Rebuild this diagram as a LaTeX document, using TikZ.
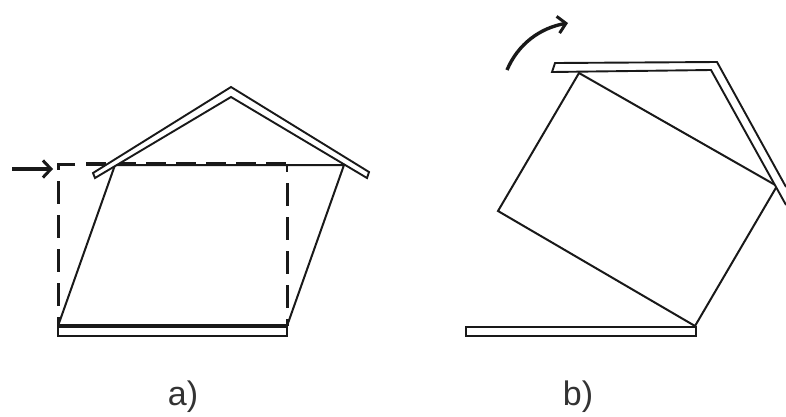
\documentclass[tikz,border=0pt]{standalone}
\usepackage{fontspec}
\setmainfont{Liberation Sans}
\usetikzlibrary{arrows.meta,calc,positioning}
\definecolor{darkline}{gray}{0.1}
\tikzset{
  wall/.style={line width=2pt,darkline},
  plate/.style={line width=1.9pt,darkline,line join=miter,fill=white},
  shifted/.style={draw=darkline,line width=3pt,dash pattern=on 23pt off 11pt},
  shiftedtop/.style={draw=darkline,line width=3.4pt,dash pattern=on 20pt off 10pt},
  push/.style={line width=3.4pt,darkline,-{Straight Barb[length=8pt,width=17pt,line width=3pt]}},
  caption/.style={font=\fontsize{34}{34}\selectfont,text=black!80,inner sep=0pt}
}
\begin{document}
\begin{tikzpicture}[x=1pt,y=-1pt]
        \useasboundingbox (0,0) rectangle (786,416);
        %Frame a)
        \coordinate (a1) at (58,326);
        \coordinate (a2) at (287,326);
        \coordinate (a3) at (344,165);
        \coordinate (a4) at (115,165);
        \coordinate (a5) at (58,164);
        \coordinate (a6) at (287,164);
        %Frame b)
        \coordinate (b1) at (695,326);
        \coordinate (b2) at (777,186);
        \coordinate (b3) at (579,73);
        \coordinate (b4) at (498,211);
        %Draw lines
        \path[shifted] (75,164) -- (a5) -- (a1);
        \path[shiftedtop] (86,164) -- (a6);
        \path[shifted] (287,183) -- (a2);
        \draw[wall] (a6) -- (287,172);
        \draw[wall] (a1) -- (a4) -- (a3) -- (a2);
        \draw[line width=3.2pt,darkline] (a1) -- (a2);
        \draw[wall] (b1) -- (b2) -- (b3) -- (b4) -- cycle;
        %Draw plates
        \draw[plate] (58,327) rectangle (287,336);
        \draw[plate] (93,173) -- (231,87) -- (369,172) -- (367,178) -- (231,97) -- (95,178) -- cycle;
        \draw[plate] (466,327) rectangle (696,336);
        \draw[plate] (786,187) -- (717,62) -- (555,63) -- (552,72) -- (711,70) -- (786,205);
        %Draw arrows
        \coordinate (p1) at (12,169);
        \coordinate (p2) at (53,169);
        \coordinate (r1) at (507,70);
        \coordinate (r2) at (568,23);
        \draw[push] (p1) -- (p2);
        \draw[push] (r1) .. controls (518,44) and (540,28) .. (r2);
        %Draw labels
        \node[caption] (la) at (183,397) {a)};
        \node[caption] (lb) at (578,397) {b)};
\end{tikzpicture}
\end{document}
